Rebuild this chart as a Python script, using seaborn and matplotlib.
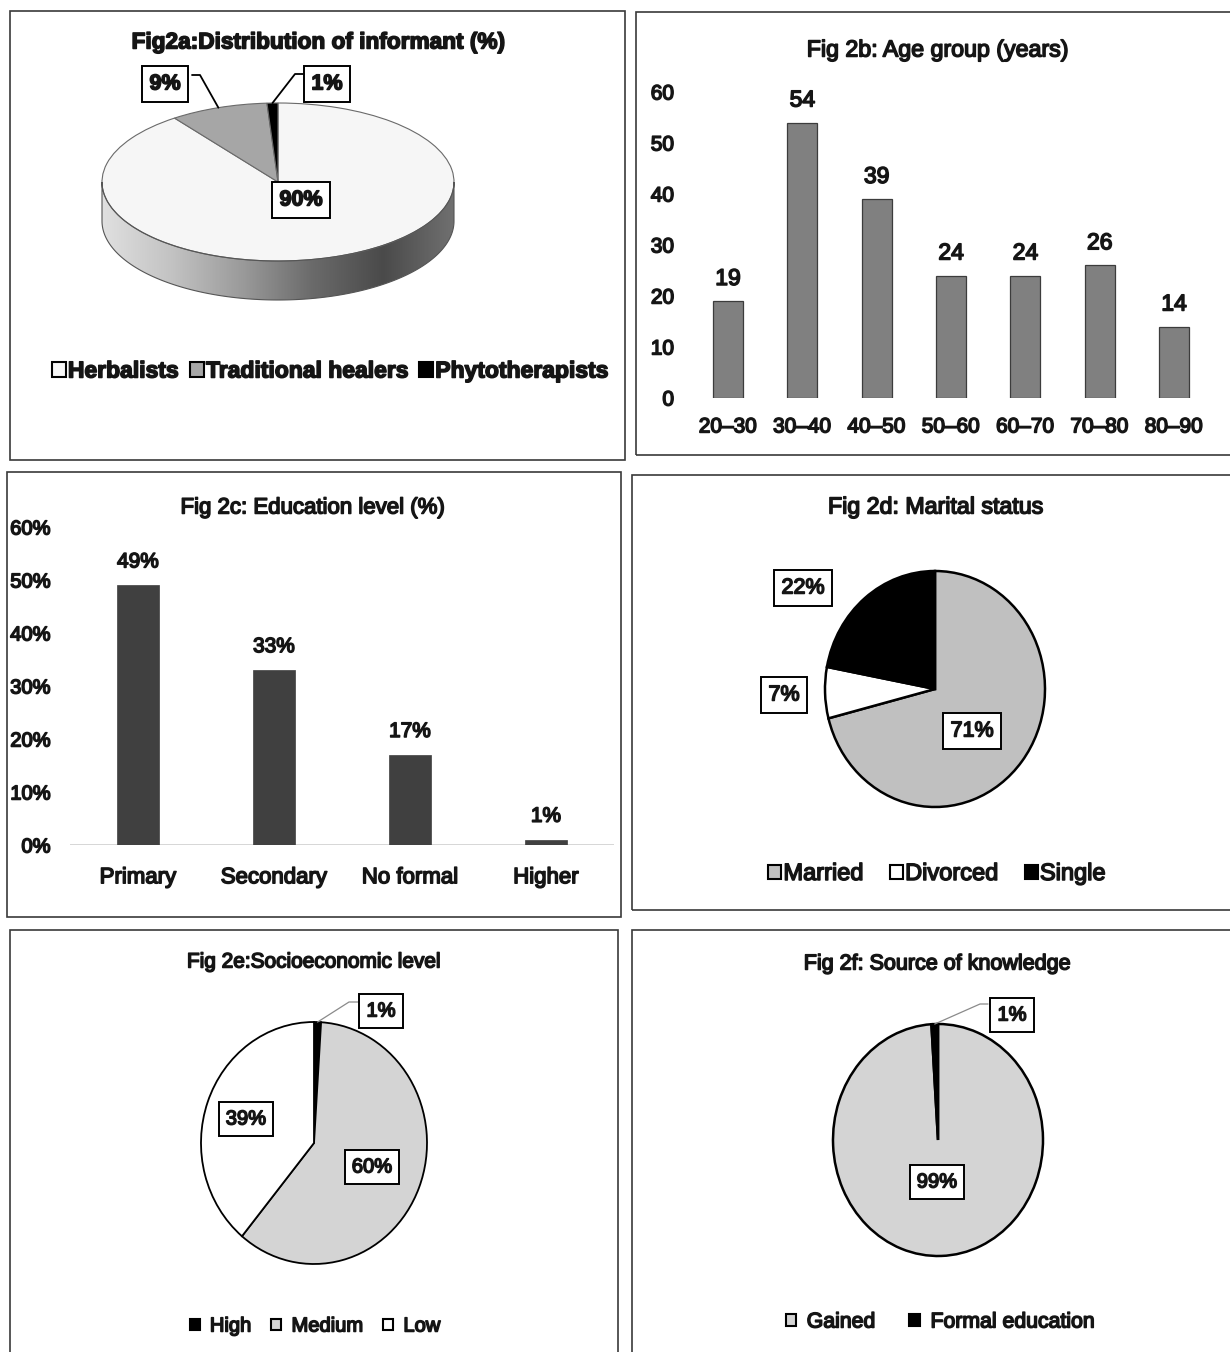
import numpy as np
import matplotlib
matplotlib.use("Agg")
import matplotlib.pyplot as plt
import matplotlib.patheffects as pe
from matplotlib.patches import Rectangle, Patch, Polygon
from matplotlib.lines import Line2D
from matplotlib.colors import LinearSegmentedColormap
import seaborn as sns

# ---- data -------------------------------------------------------------
informant_labels = ["Herbalists", "Traditional healers", "Phytotherapists"]
informant_pct = [90, 9, 1]

age_groups = ["20–30", "30–40", "40–50", "50–60", "60–70", "70–80", "80–90"]
age_counts = [19, 54, 39, 24, 24, 26, 14]

education_levels = ["Primary", "Secondary", "No formal", "Higher"]
education_pct = [49, 33, 17, 1]

marital_labels = ["Married", "Divorced", "Single"]
marital_pct = [71, 7, 22]

socio_labels = ["High", "Medium", "Low"]
socio_pct = [1, 60, 39]

knowledge_labels = ["Gained", "Formal education"]
knowledge_pct = [99, 1]

# ---- style ------------------------------------------------------------
sns.set_theme(style="white")
plt.rcParams["font.family"] = ["Liberation Sans", "DejaVu Sans"]

INK = "#151515"
HEAVY = [pe.withStroke(linewidth=1.1, foreground=INK)]

W, H = 1230, 1352
fig = plt.figure(figsize=(W / 100, H / 100), dpi=100)
fig.patch.set_facecolor("white")


def fx(x):
    return x / W


def fy(y):
    return 1 - y / H


def axes_px(l, t, r, b):
    return fig.add_axes([fx(l), fy(b), (r - l) / W, (b - t) / H])


def frame(l, t, r, b):
    fig.add_artist(Rectangle((fx(l), fy(b)), (r - l) / W, (b - t) / H,
                             transform=fig.transFigure, fill=False,
                             ec="#3a3a3a", lw=1.2))


def title(x, y, text, size=16, weight="normal"):
    fig.text(fx(x), fy(y), text, ha="center", va="center", fontsize=size,
             fontweight=weight, color=INK, path_effects=HEAVY)


def value_box(x, y, text, size=15, weight="normal"):
    fig.text(fx(x), fy(y), text, ha="center", va="center", fontsize=size,
             fontweight=weight, color=INK, path_effects=HEAVY,
             bbox=dict(boxstyle="square,pad=0.35", fc="white", ec="black", lw=1.4))


def slice_point(ax, values, i, r=1.0):
    total = float(sum(values))
    start = float(sum(values[:i]))
    mid = np.radians(90 - 360 * (start + values[i] / 2) / total)
    pt = ax.transData.transform((r * np.cos(mid), r * np.sin(mid)))
    return fig.transFigure.inverted().transform(pt)


def leader(ax, values, i, path_px, color="black", lw=1.2, r=1.0):
    p = slice_point(ax, values, i, r)
    xs = [p[0]] + [fx(x) for x, _ in path_px]
    ys = [p[1]] + [fy(y) for _, y in path_px]
    fig.add_artist(Line2D(xs, ys, transform=fig.transFigure, color=color, lw=lw))


def legend(handles_spec, x, y, size, weight="normal", colsp=0.6, hpad=0.2, hlen=0.6):
    handles = [Patch(facecolor=c, edgecolor="black", linewidth=1.5, label=l)
               for l, c in handles_spec]
    leg = fig.legend(handles=handles, loc="center", bbox_to_anchor=(fx(x), fy(y)),
                     ncol=len(handles), frameon=False, fontsize=size,
                     handlelength=hlen, handleheight=hlen, handletextpad=hpad,
                     columnspacing=colsp, borderpad=0)
    for t in leg.get_texts():
        t.set_color(INK)
        t.set_fontweight(weight)
        t.set_path_effects(HEAVY)
    return leg


def flat_pie(cx, cy, rx, ry, values, colors, lw):
    m = 0.04
    ax = axes_px(cx - rx * (1 + m), cy - ry * (1 + m), cx + rx * (1 + m), cy + ry * (1 + m))
    ax.pie(values, colors=colors, startangle=90, counterclock=False,
           wedgeprops=dict(edgecolor="black", linewidth=lw))
    ax.set_aspect("auto")
    ax.set_xlim(-1 - m, 1 + m)
    ax.set_ylim(-1 - m, 1 + m)
    ax.axis("off")
    return ax


# ---- panel frames -----------------------------------------------------
frame(10, 11, 625, 460)
frame(636, 12, 1245, 455)
frame(7, 472, 621, 917)
frame(632, 475, 1245, 910)
frame(10, 930, 618, 1365)
frame(632, 930, 1245, 1365)

# ---- Fig 2a: 3-D pie --------------------------------------------------
a_colors = ["#f6f6f6", "#a6a6a6", "#000000"]
cx, cy, rx, ry, depth_px = 278, 182, 176, 79, 39
d = depth_px / ry
m = 0.05
ax_a = axes_px(cx - rx * (1 + m), cy - ry * (1 + m), cx + rx * (1 + m), cy + ry * (1 + m) + depth_px)
t = np.linspace(np.pi, 2 * np.pi, 200)
side = np.concatenate([np.c_[np.cos(t), np.sin(t) - d], np.c_[np.cos(t[::-1]), np.sin(t[::-1])]])
side_poly = Polygon(side, closed=True, fc="none", ec="#555555", lw=0.8, zorder=3)
ax_a.add_patch(side_poly)
shade = LinearSegmentedColormap.from_list(
    "side", ["#e0e0e0", "#c2c2c2", "#9a9a9a", "#6a6a6a", "#4a4a4a", "#707070"])
img = ax_a.imshow(np.linspace(0, 1, 256)[None, :], cmap=shade, aspect="auto",
                  extent=(-1, 1, -1 - d, 0), zorder=0)
img.set_clip_path(side_poly)
ax_a.pie(informant_pct, colors=a_colors, startangle=90, counterclock=False,
         wedgeprops=dict(edgecolor="#6a6a6a", linewidth=0.8))
ax_a.set_aspect("auto")
ax_a.set_xlim(-1 - m, 1 + m)
ax_a.set_ylim(-1 - d - m, 1 + m)
ax_a.axis("off")

title(318, 42, "Fig2a:Distribution of informant (%)", size=16.3, weight="bold")
value_box(165, 84, f"{informant_pct[1]}%", size=15.5, weight="bold")
value_box(327, 84, f"{informant_pct[2]}%", size=15.5, weight="bold")
value_box(301, 200, f"{informant_pct[0]}%", size=15.5, weight="bold")
leader(ax_a, informant_pct, 1, [(200, 75), (192, 75)], lw=1.3)
leader(ax_a, informant_pct, 2, [(295, 74), (303, 74)], lw=1.3)
legend(list(zip(informant_labels, a_colors)), 330, 371, 16.5, weight="bold",
       colsp=0.5, hpad=0.1, hlen=0.6)

# ---- Fig 2b: age groups -----------------------------------------------
step_b = 74.33
ax_b = axes_px(728 - step_b / 2, 92, 1174 + step_b / 2, 398)
sns.barplot(x=age_groups, y=age_counts, color="#808080", saturation=1, width=0.4,
            edgecolor="#3c3c3c", linewidth=0.9, ax=ax_b)
ax_b.set_ylim(0, 60)
ax_b.set_xlim(-0.5, len(age_groups) - 0.5)
ax_b.set_yticks(range(0, 61, 10))
ax_b.set_xlabel("")
ax_b.set_ylabel("")
ax_b.tick_params(axis="both", length=0, labelsize=15, labelcolor=INK)
ax_b.tick_params(axis="y", pad=12)
ax_b.tick_params(axis="x", pad=14)
for lab in ax_b.get_xticklabels() + ax_b.get_yticklabels():
    lab.set_path_effects(HEAVY)
sns.despine(ax=ax_b, left=True, bottom=True)
for txt in ax_b.bar_label(ax_b.containers[0], fmt="{:.0f}", padding=8, fontsize=16.5, color=INK):
    txt.set_path_effects(HEAVY)
title(937, 50, "Fig 2b: Age group (years)", size=16.7)

# ---- Fig 2c: education ------------------------------------------------
step_c = 136
ax_c = axes_px(138 - step_c / 2, 527, 546 + step_c / 2, 845)
sns.barplot(x=education_levels, y=education_pct, color="#404040", saturation=1, width=0.31,
            edgecolor="#404040", linewidth=0.5, ax=ax_c)
ax_c.set_ylim(0, 60)
ax_c.set_xlim(-0.5, len(education_levels) - 0.5)
ax_c.set_yticks(range(0, 61, 10))
ax_c.yaxis.set_major_formatter(matplotlib.ticker.StrMethodFormatter("{x:.0f}%"))
ax_c.set_xlabel("")
ax_c.set_ylabel("")
ax_c.tick_params(axis="both", length=0, labelcolor=INK)
ax_c.tick_params(axis="y", pad=14, labelsize=14.5)
ax_c.tick_params(axis="x", pad=16, labelsize=16)
for lab in ax_c.get_xticklabels() + ax_c.get_yticklabels():
    lab.set_path_effects(HEAVY)
sns.despine(ax=ax_c, left=True, bottom=True)
ax_c.axhline(0, color="#d0d0d0", lw=1.2, zorder=0)
for txt in ax_c.bar_label(ax_c.containers[0], fmt="{:.0f}%", padding=10, fontsize=15, color=INK):
    txt.set_path_effects(HEAVY)
title(313, 508, "Fig 2c: Education level (%)", size=16)

# ---- Fig 2d: marital status -------------------------------------------
d_colors = ["#c0c0c0", "#ffffff", "#000000"]
ax_d = flat_pie(935, 689, 110, 118, marital_pct, d_colors, lw=1.8)
title(935, 507, "Fig 2d: Marital status", size=16.7)
value_box(803, 588, f"{marital_pct[2]}%", size=15.5)
value_box(784, 695, f"{marital_pct[1]}%", size=15.5)
value_box(972, 731, f"{marital_pct[0]}%", size=15.5)
legend(list(zip(marital_labels, d_colors)), 937, 874, 17, colsp=1.1, hpad=0.1, hlen=0.55)

# ---- Fig 2e: socioeconomic level --------------------------------------
e_colors = ["#000000", "#d4d4d4", "#ffffff"]
ax_e = flat_pie(314, 1143, 113, 121, socio_pct, e_colors, lw=1.3)
title(314, 962, "Fig 2e:Socioeconomic level", size=15)
value_box(381, 1011, f"{socio_pct[0]}%", size=14.5)
value_box(246, 1119, f"{socio_pct[2]}%", size=14.5)
value_box(372, 1167, f"{socio_pct[1]}%", size=14.5)
leader(ax_e, socio_pct, 0, [(349, 1002), (358, 1002)], color="#8a8a8a", lw=0.9)
legend(list(zip(socio_labels, e_colors)), 315, 1326, 14.5, colsp=1.0, hpad=0.5, hlen=0.5)

# ---- Fig 2f: source of knowledge --------------------------------------
f_colors = ["#d4d4d4", "#000000"]
ax_f = flat_pie(938, 1140, 105, 116, knowledge_pct, f_colors, lw=1.8)
title(937, 964, "Fig 2f: Source of knowledge", size=15.5)
value_box(1012, 1015, f"{knowledge_pct[1]}%", size=14.5)
value_box(937, 1182, f"{knowledge_pct[0]}%", size=14.5)
leader(ax_f, knowledge_pct, 1, [(980, 1004), (988, 1004)], color="#8a8a8a", lw=0.9)
legend(list(zip(knowledge_labels, f_colors)), 940, 1322, 15.3, colsp=1.6, hpad=0.5, hlen=0.5)

fig.savefig("out.png", dpi=100, facecolor="white")
